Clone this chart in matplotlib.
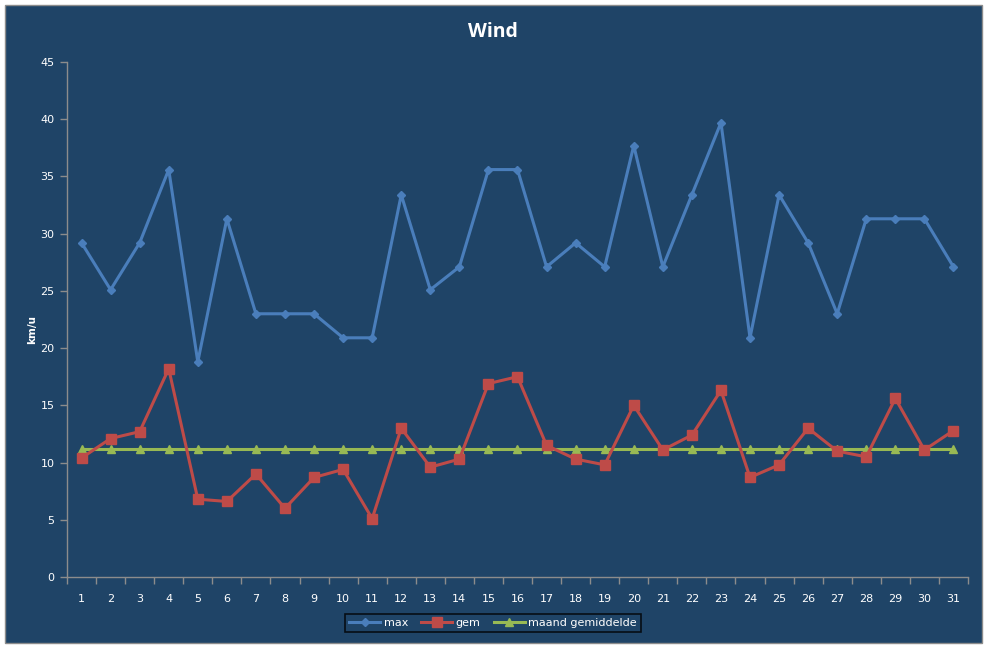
import matplotlib
matplotlib.use("Agg")
import matplotlib.pyplot as plt
import numpy as np
from matplotlib.patches import Rectangle

days = list(range(1, 32))
max_wind = [29.2, 25.1, 29.2, 35.6, 18.8, 31.3, 23.0, 23.0, 23.0, 20.9, 20.9,
            33.4, 25.1, 27.1, 35.6, 35.6, 27.1, 29.2, 27.1, 37.7, 27.1, 33.4,
            39.7, 20.9, 33.4, 29.2, 23.0, 31.3, 31.3, 31.3, 27.1]
gem_wind = [10.4, 12.1, 12.7, 18.2, 6.8, 6.6, 9.0, 6.0, 8.7, 9.4, 5.1,
            13.0, 9.6, 10.3, 16.9, 17.5, 11.5, 10.3, 9.8, 15.0, 11.1, 12.4,
            16.3, 8.7, 9.8, 13.0, 11.0, 10.5, 15.6, 11.1, 12.8]
month_avg = [11.2] * 31

bg = "#1F4467"
axis_grey = "#8C8C8C"

fig = plt.figure(figsize=(9.87, 6.48), dpi=100)
fig.patch.set_facecolor("white")
fig.patches.append(Rectangle((5 / 987, 5 / 648), 977 / 987, 638 / 648,
                             transform=fig.transFigure, facecolor=bg,
                             edgecolor="#8C8C8C", linewidth=1, zorder=-10))

ax = fig.add_axes([67 / 987, 1 - 577 / 648, 901 / 987, 515 / 648])
ax.set_facecolor(bg)

x = np.arange(len(days))
ax.plot(x, max_wind, color="#4A7EBB", lw=2.2, marker="D", ms=4.5,
        label="max", zorder=3)
ax.plot(x, gem_wind, color="#BE4B48", lw=2.2, marker="s", ms=6.5,
        label="gem", zorder=3)
ax.plot(x, month_avg, color="#98B954", lw=2.2, marker="^", ms=6,
        label="maand gemiddelde", zorder=2)

ax.set_xlim(-0.5, len(days) - 0.5)
ax.set_ylim(0, 45)
ax.set_yticks(range(0, 46, 5))
ax.set_xticks(x)
ax.set_xticklabels([str(d) for d in days])
ax.set_xticks(np.arange(-0.5, len(days), 1), minor=True)

for side in ["top", "right"]:
    ax.spines[side].set_visible(False)
for side in ["left", "bottom"]:
    ax.spines[side].set_color(axis_grey)
    ax.spines[side].set_linewidth(1)

ax.tick_params(axis="y", colors=axis_grey, labelcolor="white", labelsize=8,
               length=5, width=1, direction="out", pad=4)
ax.tick_params(axis="x", which="major", length=0, labelcolor="white",
               labelsize=8, pad=12)
ax.tick_params(axis="x", which="minor", colors=axis_grey, length=5, width=1,
               direction="out")

fig.text(493 / 987, 1 - 32 / 648, "Wind", color="white", fontsize=14,
         fontweight="bold", ha="center", va="center", family="Open Sans")
fig.text(32 / 987, 1 - 330 / 648, "km/u", color="white", fontsize=7.5,
         fontweight="bold", ha="center", va="center", rotation=90)

leg = fig.legend(loc="center", bbox_to_anchor=(493 / 987, 1 - 623 / 648),
                 ncol=3, frameon=True, fontsize=8, labelcolor="white",
                 handlelength=2.8, handletextpad=0.3, columnspacing=1.2,
                 borderpad=0.35, fancybox=False)
leg.get_frame().set_facecolor(bg)
leg.get_frame().set_edgecolor("black")
leg.get_frame().set_linewidth(1.2)

fig.savefig("out.png", dpi=100, facecolor=fig.get_facecolor())
